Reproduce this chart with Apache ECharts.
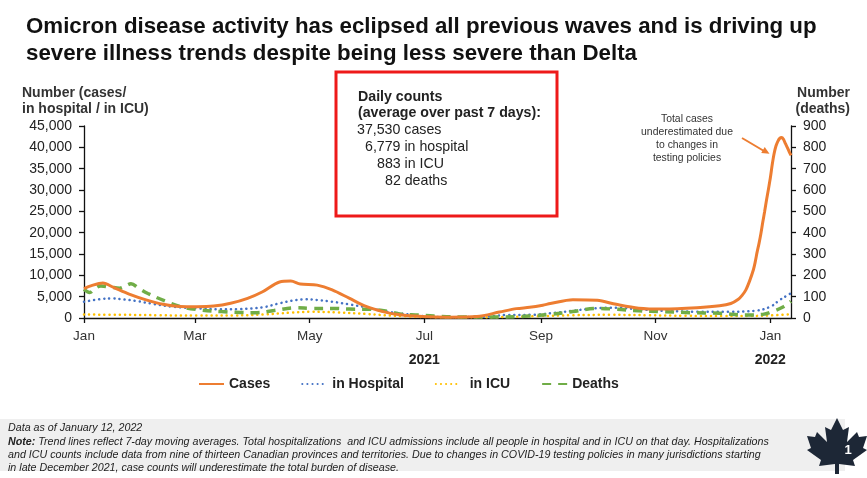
<!DOCTYPE html>
<html>
<head>
<meta charset="utf-8">
<script src="https://cdn.jsdelivr.net/npm/echarts@6/dist/echarts.min.js"></script>
<style>
html,body{margin:0;padding:0;background:#fff;}
#chart{width:867px;height:478px;}
</style>
</head>
<body>
<div id="chart"></div>
<script>
// ---- Data (day index: 0 = Jan 1, 2021) ----
const caseDays = [0,4,10,16,24,33,42,51,60,69,78,87,95,104,110,115,124,132,141,150,159,168,180,194,209,221,230,237,244,248,260,273,283,295,308,326,338,344,348,350,352,354,356,357,358,359,360,361,362,363,364,365,366,367,368,369,370,371,372,373,374,375,376];
const cases = [6900,7600,8200,7100,5600,4250,3200,2700,2650,2800,3450,4600,6150,8450,8650,7950,7700,6600,4650,2700,1500,750,350,200,350,1400,2200,2500,3000,3400,4300,4150,3200,2300,2100,2400,2850,3400,4400,5300,6600,8700,11300,13200,15500,17500,19800,22500,25000,27700,30200,32800,35900,38500,40300,41400,42100,42300,41900,40900,40000,39000,38100];

const hospDays = [0,8,15,19,28,37,47,60,72,83,95,104,113,118,124,132,141,150,159,168,180,194,212,225,238,248,260,272,283,295,308,326,343,357,365,370,374,376];
const hosp = [3800,4380,4600,4450,3980,3280,2650,2270,2040,2110,2500,3440,4220,4380,4220,3820,3200,2500,1640,1100,470,200,300,700,750,1100,1700,2270,2420,2040,1700,1480,1480,1700,2650,4220,5300,5800];

const icuDays = [0,20,40,60,80,95,110,120,135,150,160,170,180,200,220,240,260,280,300,320,340,355,365,376];
const icu = [800,760,650,560,600,820,1250,1450,1300,950,650,400,250,150,200,400,650,750,650,520,450,480,600,880];

const deathDays = [0,3,6,9,14,19,22,25,29,34,43,52,62,73,83,92,101,113,121,132,141,152,162,168,178,186,200,220,230,238,248,260,273,283,295,308,322,338,352,361,366,372,376];
const deaths = [135,120,140,150,145,140,150,160,140,115,80,52,38,30,26,25,35,48,45,45,42,41,30,19,14,9,5,5,6,10,17,30,45,41,34,30,25,22,14,17,30,53,78];

// ---- Axis tick labels ----
const monthTickDays = [0,59,120,181,243,304,365];
const monthLabels = ['Jan','Mar','May','Jul','Sep','Nov','Jan'];
const yearTickDays = [181,365];
const yearLabels = ['2021','2022'];
const leftTicks = [0,5000,10000,15000,20000,25000,30000,35000,40000,45000];
const rightTicks = [0,100,200,300,400,500,600,700,800,900];

const pairs = (xs, ys) => xs.map((x, i) => [x, ys[i]]);
const FONT = '"Liberation Sans", Arial, sans-serif';

const chart = echarts.init(document.getElementById('chart'), null, {renderer: 'canvas'});

const noteLines = [
  'Data as of January 12, 2022',
  '{b|Note:} Trend lines reflect 7-day moving averages. Total hospitalizations  and ICU admissions include all people in hospital and in ICU on that day. Hospitalizations',
  'and ICU counts include data from nine of thirteen Canadian provinces and territories. Due to changes in COVID-19 testing policies in many jurisdictions starting',
  'in late December 2021, case counts will underestimate the total burden of disease.'
];
const noteY = [428, 442, 455.5, 468.5];

const boxLines = [
  {t: 'Daily counts', x: 358, y: 97, b: true},
  {t: '(average over past 7 days):', x: 358, y: 113.5, b: true},
  {t: '37,530 cases', x: 357, y: 130.5, b: false},
  {t: '6,779 in hospital', x: 365, y: 147.5, b: false},
  {t: '883 in ICU', x: 377, y: 164.5, b: false},
  {t: '82 deaths', x: 385, y: 181.5, b: false}
];

const annoLines = ['Total cases', 'underestimated due', 'to changes in', 'testing policies'];

const graphics = [];
// axis titles
graphics.push({type: 'text', x: 22, y: 85, style: {text: 'Number (cases/\nin hospital / in ICU)', fontFamily: FONT, fontSize: 14, fontWeight: 'bold', fill: '#333', lineHeight: 16}});
graphics.push({type: 'text', x: 850, y: 85, style: {text: 'Number\n(deaths)', fontFamily: FONT, fontSize: 14, fontWeight: 'bold', fill: '#333', lineHeight: 16, align: 'right'}});
// red box
graphics.push({type: 'rect', shape: {x: 336, y: 72, width: 221, height: 144}, style: {fill: 'none', stroke: '#ee1a1a', lineWidth: 3}});
boxLines.forEach(l => graphics.push({type: 'text', x: l.x, y: l.y, style: {text: l.t, fontFamily: FONT, fontSize: 14.2, fontWeight: l.b ? 'bold' : 'normal', fill: '#222', verticalAlign: 'middle'}}));
// annotation
annoLines.forEach((t, i) => graphics.push({type: 'text', x: 687, y: 119 + i * 13, style: {text: t, fontFamily: FONT, fontSize: 10.4, fill: '#333', align: 'center', verticalAlign: 'middle'}}));
graphics.push({type: 'line', shape: {x1: 742, y1: 138, x2: 764, y2: 151}, style: {stroke: '#ed7d31', lineWidth: 2}});
graphics.push({type: 'polygon', shape: {points: [[769.5, 153.8], [761.2, 153.0], [764.7, 147.0]]}, style: {fill: '#ed7d31'}});
// footer band
graphics.push({type: 'rect', shape: {x: 0, y: 419, width: 845, height: 52}, style: {fill: '#efefef'}});
noteLines.forEach((t, i) => graphics.push({type: 'text', x: 8, y: noteY[i], style: {text: t, fontFamily: FONT, fontSize: 10.7, fontStyle: 'italic', fill: '#222', verticalAlign: 'middle', rich: {b: {fontFamily: FONT, fontSize: 10.7, fontStyle: 'italic', fontWeight: 'bold', fill: '#222'}}}}));
// maple leaf
const leaf = [[0,-28],[6,-16],[12,-19],[10,-4],[20,-14],[22,-9],[30,-10],[26,2],[30,4],[16,14],[18,20],[2,18],[2,28],[-2,28],[-2,18],[-18,20],[-16,14],[-30,4],[-26,2],[-30,-10],[-22,-9],[-20,-14],[-10,-4],[-12,-19],[-6,-16]];
graphics.push({type: 'polygon', shape: {points: leaf.map(p => [837 + p[0], 446 + p[1]])}, style: {fill: '#1d2736'}});
graphics.push({type: 'text', x: 848, y: 450, style: {text: '1', fontFamily: FONT, fontSize: 13, fontWeight: 'bold', fill: '#fff', align: 'center', verticalAlign: 'middle'}});

const option = {
  animation: false,
  backgroundColor: '#fff',
  title: {
    text: 'Omicron disease activity has eclipsed all previous waves and is driving up\nsevere illness trends despite being less severe than Delta',
    left: 21, top: 8,
    textStyle: {fontFamily: FONT, fontSize: 22.3, fontWeight: 'bold', color: '#111', lineHeight: 27}
  },
  grid: {left: 84, right: 76, top: 126, bottom: 160, containLabel: false},
  legend: {
    left: 198, top: 377, padding: 0,
    itemWidth: 25, itemHeight: 14, itemGap: 31,
    itemStyle: {opacity: 0},
    textStyle: {fontFamily: FONT, fontSize: 14, fontWeight: 'bold', color: '#222'},
    formatter: n => n === 'in ICU' ? ' in ICU' : n,
    data: ['Cases', 'in Hospital', 'in ICU', 'Deaths']
  },
  xAxis: {
    type: 'value', min: 0, max: 376,
    axisLine: {show: true, lineStyle: {color: '#111', width: 1.3}},
    axisTick: {show: true, length: 5, customValues: monthTickDays, lineStyle: {color: '#111', width: 1.3}},
    splitLine: {show: false},
    axisLabel: {
      customValues: monthTickDays, margin: 10, color: '#333', fontFamily: FONT, fontSize: 13.5,
      formatter: v => {
        const i = monthTickDays.indexOf(v);
        if (i < 0) return '';
        const yi = yearTickDays.indexOf(v);
        return yi >= 0 ? '{m|' + monthLabels[i] + '}\n{y|' + yearLabels[yi] + '}' : '{m|' + monthLabels[i] + '}';
      },
      rich: {
        m: {fontFamily: FONT, fontSize: 13.5, color: '#333', lineHeight: 16},
        y: {fontFamily: FONT, fontSize: 14, fontWeight: 'bold', color: '#222', lineHeight: 32}
      }
    }
  },
  yAxis: [
    {
      type: 'value', min: leftTicks[0], max: leftTicks[leftTicks.length - 1], interval: leftTicks[1] - leftTicks[0],
      axisLine: {show: true, lineStyle: {color: '#111', width: 1.3}},
      axisTick: {show: true, length: 5, lineStyle: {color: '#111', width: 1.3}},
      splitLine: {show: false},
      axisLabel: {margin: 12, color: '#222', fontFamily: FONT, fontSize: 14, formatter: v => v.toLocaleString('en-US')}
    },
    {
      type: 'value', min: rightTicks[0], max: rightTicks[rightTicks.length - 1], interval: rightTicks[1] - rightTicks[0],
      position: 'right',
      axisLine: {show: true, lineStyle: {color: '#111', width: 1.3}},
      axisTick: {show: true, length: 5, lineStyle: {color: '#111', width: 1.3}},
      splitLine: {show: false},
      axisLabel: {margin: 12, color: '#222', fontFamily: FONT, fontSize: 14}
    }
  ],
  series: [
    {name: 'in ICU', type: 'line', yAxisIndex: 0, data: pairs(icuDays, icu), smooth: 0.4, symbol: 'none',
      lineStyle: {color: '#ffc000', width: 2.5, type: [0.1, 5], cap: 'round'}, itemStyle: {color: '#ffc000'}, z: 2},
    {name: 'in Hospital', type: 'line', yAxisIndex: 0, data: pairs(hospDays, hosp), smooth: 0.4, symbol: 'none',
      lineStyle: {color: '#4472c4', width: 2.5, type: [0.1, 5], cap: 'round'}, itemStyle: {color: '#4472c4'}, z: 3},
    {name: 'Deaths', type: 'line', yAxisIndex: 1, data: pairs(deathDays, deaths), smooth: 0.4, symbol: 'none',
      lineStyle: {color: '#70ad47', width: 3.5, type: [9, 7]}, itemStyle: {color: '#70ad47'}, z: 4},
    {name: 'Cases', type: 'line', yAxisIndex: 0, data: pairs(caseDays, cases), smooth: 0.3, symbol: 'none',
      lineStyle: {color: '#ed7d31', width: 3}, itemStyle: {color: '#ed7d31'}, z: 5}
  ],
  graphic: graphics
};
chart.setOption(option);
</script>
</body>
</html>
